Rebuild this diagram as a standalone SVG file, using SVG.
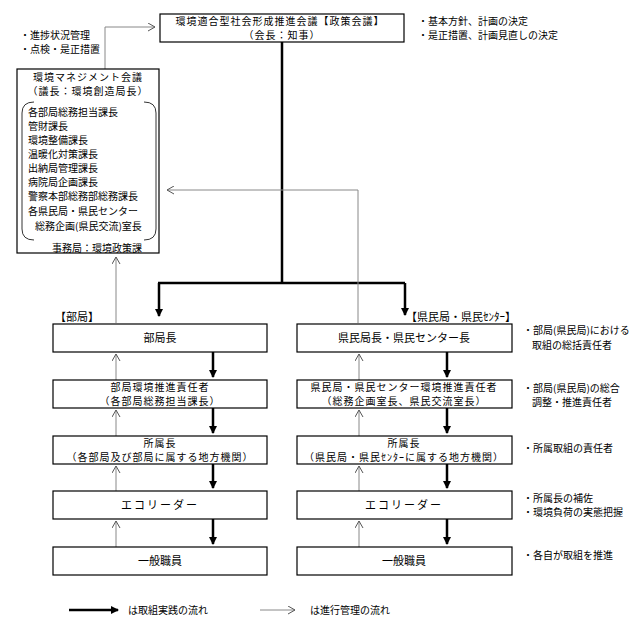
<svg xmlns="http://www.w3.org/2000/svg" width="643" height="619" viewBox="0 0 643 619">
<style>
text{font-family:"Noto Sans CJK JP","Noto Sans CJK SC",sans-serif;fill:#000}
.box{fill:#fff;stroke:#000;stroke-width:1.2}
.t{font-size:11px;text-anchor:middle}
.t2{font-size:10px;text-anchor:middle;letter-spacing:1px}
.s{font-size:10px}
.l{font-size:10px}
.thick{stroke:#000;stroke-width:2.5;fill:none}
.gray{stroke:#888;stroke-width:1;fill:none}
</style>
<defs>
<marker id="ah" markerUnits="userSpaceOnUse" markerWidth="8" markerHeight="8" refX="7" refY="4" orient="auto">
<path d="M0,0 L8,4 L0,8 z" fill="#000"/>
</marker>
<marker id="oh" markerUnits="userSpaceOnUse" markerWidth="8" markerHeight="9" refX="7" refY="4.5" orient="auto">
<path d="M0,0.5 L7,4.5 L0,8.5" fill="none" stroke="#555" stroke-width="1"/>
</marker>
</defs>

<g id="connectors">
<path class="thick" d="M282,42 V283 M158,283 H405"/>
<path class="thick" d="M159,283 V316" marker-end="url(#ah)"/>
<path class="thick" d="M405,283 V315" marker-end="url(#ah)"/>
<path class="gray" d="M105,69 V27 H155" marker-end="url(#oh)"/>
<path class="gray" d="M358,323 V190 H167" marker-end="url(#oh)"/>
<path class="gray" d="M116,323 V257" marker-end="url(#oh)"/>
<path class="thick" d="M213,352 V377" marker-end="url(#ah)"/>
<path class="thick" d="M213,408 V433" marker-end="url(#ah)"/>
<path class="thick" d="M213,464 V488" marker-end="url(#ah)"/>
<path class="thick" d="M213,519 V544" marker-end="url(#ah)"/>
<path class="gray" d="M116,380 V354" marker-end="url(#oh)"/>
<path class="gray" d="M116,436 V410" marker-end="url(#oh)"/>
<path class="gray" d="M116,491 V466" marker-end="url(#oh)"/>
<path class="gray" d="M116,547 V521" marker-end="url(#oh)"/>
<path class="thick" d="M447,352 V377" marker-end="url(#ah)"/>
<path class="thick" d="M447,408 V433" marker-end="url(#ah)"/>
<path class="thick" d="M447,464 V488" marker-end="url(#ah)"/>
<path class="thick" d="M447,519 V544" marker-end="url(#ah)"/>
<path class="gray" d="M359,380 V354" marker-end="url(#oh)"/>
<path class="gray" d="M359,436 V410" marker-end="url(#oh)"/>
<path class="gray" d="M359,491 V466" marker-end="url(#oh)"/>
<path class="gray" d="M359,547 V521" marker-end="url(#oh)"/>
</g>

<g id="policy">
<rect class="box" x="160" y="14" width="244" height="28"/>
<text class="t2" x="280" y="25" letter-spacing="1.2">環境適合型社会形成推進会議【政策会議】</text>
<text class="t2" x="282" y="39">（会長：知事）</text>
</g>
<g id="policy-notes">
<text class="s" x="418" y="25">・基本方針、計画の決定</text>
<text class="s" x="418" y="39">・是正措置、計画見直しの決定</text>
</g>
<g id="mgmt-notes">
<text class="s" x="20" y="39">・進捗状況管理</text>
<text class="s" x="20" y="53">・点検・是正措置</text>
</g>

<g id="mgmt">
<rect class="box" x="17" y="69" width="142" height="184"/>
<text class="t2" x="88" y="81" letter-spacing="1.8">環境マネジメント会議</text>
<text class="t2" x="88" y="95">（議長：環境創造局長）</text>
<path d="M34,102 Q22,102 22,113 V229 Q22,240 34,240 M144,102 Q156,102 156,113 V229 Q156,240 144,240" fill="none" stroke="#333" stroke-width="1"/>
<g class="l">
<text x="28" y="116">各部局総務担当課長</text>
<text x="28" y="130">管財課長</text>
<text x="28" y="144">環境整備課長</text>
<text x="28" y="158">温暖化対策課長</text>
<text x="28" y="172">出納局管理課長</text>
<text x="28" y="186">病院局企画課長</text>
<text x="28" y="200">警察本部総務部総務課長</text>
<text x="28" y="215">各県民局・県民センター</text>
<text x="35" y="230">総務企画(県民交流)室長</text>
</g>
<text class="l" x="97" y="252" text-anchor="middle">事務局：環境政策課</text>
</g>

<text class="t" x="77" y="321">【部局】</text>
<text class="t" x="461" y="321">【県民局・県民ｾﾝﾀｰ】</text>

<g id="bu-cho">
<rect class="box" x="53" y="324" width="214" height="28"/>
<text class="t" x="160" y="342">部局長</text>
</g>
<g id="bu-suishin">
<rect class="box" x="53" y="380" width="214" height="28"/>
<text class="t2" x="160" y="391">部局環境推進責任者</text>
<text class="t2" x="160" y="405">（各部局総務担当課長）</text>
</g>
<g id="bu-shozoku">
<rect class="box" x="53" y="436" width="214" height="28"/>
<text class="t2" x="160" y="447">所属長</text>
<text class="t2" x="160" y="461">（各部局及び部局に属する地方機関）</text>
</g>
<g id="bu-eco">
<rect class="box" x="53" y="491" width="214" height="28"/>
<text class="t" x="160" y="509" letter-spacing="2">エコリーダー</text>
</g>
<g id="bu-ippan">
<rect class="box" x="53" y="547" width="214" height="28"/>
<text class="t" x="160" y="565">一般職員</text>
</g>

<g id="ken-cho">
<rect class="box" x="297" y="324" width="215" height="28"/>
<text class="t" x="404" y="342" font-size="11.5">県民局長・県民センター長</text>
</g>
<g id="ken-suishin">
<rect class="box" x="297" y="380" width="215" height="28"/>
<text class="t2" x="404" y="391" letter-spacing="1.5">県民局・県民センター環境推進責任者</text>
<text class="t2" x="404" y="405" letter-spacing="1.5">（総務企画室長、県民交流室長）</text>
</g>
<g id="ken-shozoku">
<rect class="box" x="297" y="436" width="215" height="28"/>
<text class="t2" x="404" y="447">所属長</text>
<text class="t2" x="404" y="461" letter-spacing="0.5">（県民局・県民ｾﾝﾀｰに属する地方機関）</text>
</g>
<g id="ken-eco">
<rect class="box" x="297" y="491" width="215" height="28"/>
<text class="t" x="404" y="509" letter-spacing="2">エコリーダー</text>
</g>
<g id="ken-ippan">
<rect class="box" x="297" y="547" width="215" height="28"/>
<text class="t" x="404" y="565">一般職員</text>
</g>

<g id="right-notes" class="s">
<text x="523" y="334">・部局(県民局)における</text>
<text x="532" y="349">取組の総括責任者</text>
<text x="523" y="392">・部局(県民局)の総合</text>
<text x="532" y="406">調整・推進責任者</text>
<text x="523" y="452">・所属取組の責任者</text>
<text x="523" y="502">・所属長の補佐</text>
<text x="523" y="516">・環境負荷の実態把握</text>
<text x="523" y="559">・各自が取組を推進</text>
</g>

<g id="legend">
<line class="thick" x1="69" y1="610" x2="118" y2="610" marker-end="url(#ah)"/>
<text class="s" x="128" y="614">は取組実践の流れ</text>
<line class="gray" x1="260" y1="610" x2="295" y2="610" marker-end="url(#oh)"/>
<text class="s" x="310" y="614">は進行管理の流れ</text>
</g>
</svg>
